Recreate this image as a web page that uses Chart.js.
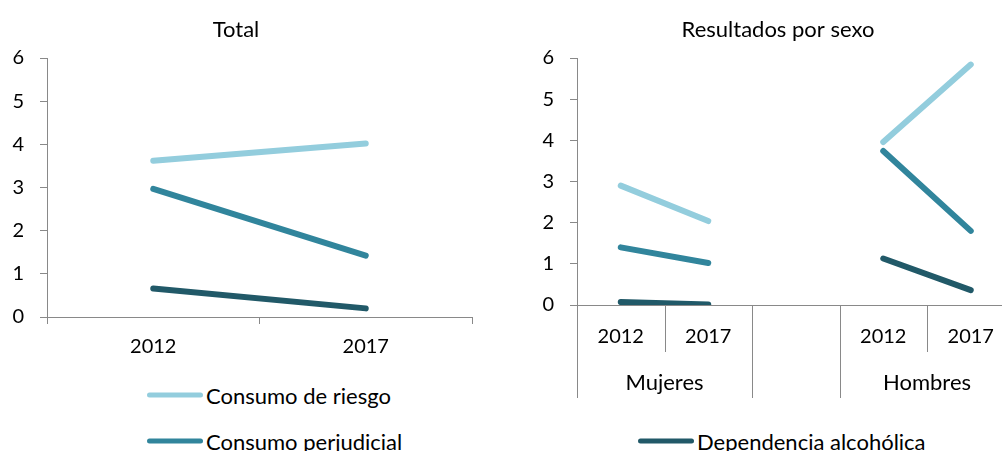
<!DOCTYPE html>
<html lang="es">
<head>
<meta charset="utf-8">
<script src="https://cdn.jsdelivr.net/npm/chart.js@4/dist/chart.umd.min.js"></script>
<style>
  html, body { margin: 0; padding: 0; background: #fff; }
  body { width: 1002px; height: 451px; position: relative; overflow: hidden; font-family: Lato, sans-serif; }
  .panel { position: absolute; top: 0; }
  .legend-item { position: absolute; display: flex; align-items: center; transform: translateY(-50%); font-size: 22px; color: #000; white-space: nowrap; }
  .legend-item .swatch { width: 56px; height: 5px; border-radius: 3px; margin-right: 3px; }
</style>
</head>
<body>
<div class="panel" style="left:0;width:496px;height:360px"><canvas id="totalChart" width="496" height="360"></canvas></div>
<div class="panel" style="left:500px;width:520px;height:400px"><canvas id="sexoChart" width="520" height="400"></canvas></div>
<div id="legend"></div>
<script>
// Valores (%) por año
const years = ['2012', '2017'];
const riesgoTotal = [3.62, 4.02];
const perjudicialTotal = [2.97, 1.42];
const dependenciaTotal = [0.66, 0.20];

// Por sexo: Mujeres 2012, 2017 | hueco | Hombres 2012, 2017
const sexoYears = ['2012', '2017', '', '2012', '2017'];
const grupos = ['Mujeres', 'Hombres'];
const riesgoSexo = [2.90, 2.04, null, 3.96, 5.84];
const perjudicialSexo = [1.40, 1.02, null, 3.74, 1.80];
const dependenciaSexo = [0.07, 0.01, null, 1.13, 0.36];

const seriesNames = ['Consumo de riesgo', 'Consumo perjudicial', 'Dependencia alcohólica'];
const colors = ['#93CDDD', '#31859C', '#215968'];
const axisColor = '#898989';
const font = { family: 'Lato', size: 20 };

function makeDatasets(values) {
  return values.map((data, i) => ({
    label: seriesNames[i],
    data: data,
    borderColor: colors[i],
    backgroundColor: colors[i],
    borderWidth: 6,
    borderCapStyle: 'round',
    pointRadius: 0,
    tension: 0,
    spanGaps: false
  }));
}

function yScale(width) {
  return {
    min: 0,
    max: 6,
    ticks: { stepSize: 1, color: '#000', font: font, padding: 16 },
    grid: { drawOnChartArea: false, color: axisColor, tickLength: 7 },
    border: { color: axisColor, width: 1 },
    afterFit: scale => { scale.width = width; }
  };
}

function titleOpts(text) {
  return {
    display: true,
    text: text,
    color: '#000',
    font: { family: 'Lato', size: 22, weight: 'normal' },
    padding: { top: 17, bottom: 14.6 }
  };
}

// Gráfico total
new Chart(document.getElementById('totalChart'), {
  type: 'line',
  data: {
    labels: years,
    datasets: makeDatasets([riesgoTotal, perjudicialTotal, dependenciaTotal])
  },
  options: {
    responsive: false,
    animation: false,
    layout: { padding: { left: 0, right: 24, top: 0, bottom: 0 } },
    plugins: { legend: { display: false }, tooltip: { enabled: false }, title: titleOpts('Total') },
    scales: {
      x: {
        offset: true,
        ticks: { color: '#000', font: font, padding: 11 },
        grid: { offset: true, drawOnChartArea: false, color: axisColor, tickLength: 7 },
        border: { color: axisColor, width: 1 },
        afterFit: scale => { scale.height = 43; }
      },
      y: yScale(47)
    }
  }
});

// Separadores y etiquetas de grupo del eje de categorías
const groupAxis = {
  id: 'groupAxis',
  afterDraw(chart) {
    const x = chart.scales.x;
    const ctx = chart.ctx;
    const n = sexoYears.length;
    const step = (x.right - x.left) / n;
    const top = x.top;
    ctx.save();
    ctx.strokeStyle = axisColor;
    ctx.lineWidth = 1;
    for (let i = 0; i <= n; i++) {
      const px = Math.round(x.left + i * step) + 0.5;
      const inner = i === 1 || i === 4;
      ctx.beginPath();
      ctx.moveTo(px, top);
      ctx.lineTo(px, top + (inner ? 47 : 93));
      ctx.stroke();
    }
    ctx.fillStyle = '#000';
    ctx.font = '22px Lato';
    ctx.textAlign = 'center';
    ctx.textBaseline = 'middle';
    const centers = [(x.getPixelForValue(0) + x.getPixelForValue(1)) / 2,
                     (x.getPixelForValue(3) + x.getPixelForValue(4)) / 2];
    grupos.forEach((g, i) => ctx.fillText(g, centers[i], top + 78));
    ctx.restore();
  }
};

// Gráfico por sexo
new Chart(document.getElementById('sexoChart'), {
  type: 'line',
  data: {
    labels: sexoYears,
    datasets: makeDatasets([riesgoSexo, perjudicialSexo, dependenciaSexo])
  },
  options: {
    responsive: false,
    animation: false,
    layout: { padding: { left: 41.5, right: 5.5, top: 0, bottom: 0 } },
    plugins: { legend: { display: false }, tooltip: { enabled: false }, title: titleOpts('Resultados por sexo') },
    scales: {
      x: {
        offset: true,
        ticks: { color: '#000', font: font, padding: 20 },
        grid: { display: false, offset: true, drawTicks: false },
        border: { color: axisColor, width: 1 },
        afterFit: scale => { scale.height = 95; }
      },
      y: yScale(35.5)
    }
  },
  plugins: [groupAxis]
});

// Leyenda
const legendPos = [
  { left: 147, top: 395 },
  { left: 147, top: 441 },
  { left: 638, top: 441 }
];
const legend = document.getElementById('legend');
seriesNames.forEach((name, i) => {
  const item = document.createElement('div');
  item.className = 'legend-item';
  item.style.left = legendPos[i].left + 'px';
  item.style.top = legendPos[i].top + 'px';
  const sw = document.createElement('span');
  sw.className = 'swatch';
  sw.style.background = colors[i];
  const txt = document.createElement('span');
  txt.textContent = name;
  item.appendChild(sw);
  item.appendChild(txt);
  legend.appendChild(item);
});
</script>
</body>
</html>
